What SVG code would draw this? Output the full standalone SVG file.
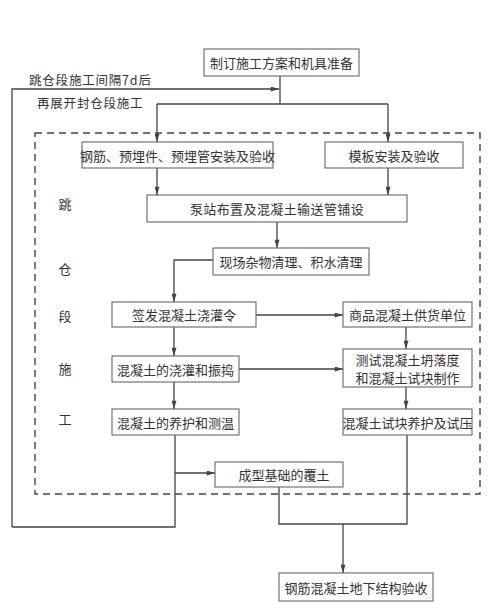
<svg xmlns="http://www.w3.org/2000/svg" width="500" height="616" viewBox="0 0 500 616">
<defs>
<style>
.box{fill:#fff;stroke:#666;stroke-width:1.1}
.t{font-family:"Noto Sans CJK SC","Liberation Serif",serif;font-size:13px;fill:#333;text-anchor:middle;dominant-baseline:central}
.ts{font-family:"Noto Sans CJK SC","Liberation Serif",serif;font-size:12.5px;fill:#333;dominant-baseline:central;letter-spacing:0.8px}
.ln{fill:none;stroke:#444;stroke-width:1.3}
.dash{fill:none;stroke:#444;stroke-width:1.4;stroke-dasharray:7,5}
</style>
<marker id="ar" viewBox="0 0 10 6" refX="10" refY="3" markerWidth="9" markerHeight="5" markerUnits="userSpaceOnUse" orient="auto">
<path d="M0,0 L10,3 L0,6 Z" fill="#444"/>
</marker>
</defs>
<rect width="500" height="616" fill="#fff"/>
<rect class="dash" x="35" y="133" width="445" height="361"/>
<g id="connectors">
<path class="ln" d="M280,76 V104"/>
<path class="ln" d="M157,104 H388"/>
<path class="ln" d="M157,104 V142" marker-end="url(#ar)"/>
<path class="ln" d="M388,104 V142" marker-end="url(#ar)"/>
<path class="ln" d="M12,527 V89 H279" marker-end="url(#ar)"/>
<path class="ln" d="M157,168 V195" marker-end="url(#ar)"/>
<path class="ln" d="M388,168 V195" marker-end="url(#ar)"/>
<path class="ln" d="M277,222 V248" marker-end="url(#ar)"/>
<path class="ln" d="M213,260 H174 V302" marker-end="url(#ar)"/>
<path class="ln" d="M256,315 H343" marker-end="url(#ar)"/>
<path class="ln" d="M406,327 V349" marker-end="url(#ar)"/>
<path class="ln" d="M174,327 V356" marker-end="url(#ar)"/>
<path class="ln" d="M239,369 H343" marker-end="url(#ar)"/>
<path class="ln" d="M174,382 V409" marker-end="url(#ar)"/>
<path class="ln" d="M406,387 V409" marker-end="url(#ar)"/>
<path class="ln" d="M175,435 V527 H12"/>
<path class="ln" d="M175,473 H215" marker-end="url(#ar)"/>
<path class="ln" d="M279,487 V524 H407 V435"/>
<path class="ln" d="M343,524 V573" marker-end="url(#ar)"/>
</g>
<text class="ts" x="29" y="79">跳仓段施工间隔7d后</text>
<text class="ts" x="37" y="102">再展开封仓段施工</text>
<g id="side-label">
<text class="t" x="65" y="203">跳</text>
<text class="t" x="65" y="268">仓</text>
<text class="t" x="65" y="315">段</text>
<text class="t" x="65" y="368">施</text>
<text class="t" x="65" y="418">工</text>
</g>
<g id="n1"><rect class="box" x="204" y="49" width="155" height="27"/><text class="t" x="281.5" y="62.5">制订施工方案和机具准备</text></g>
<g id="n2"><rect class="box" x="82" y="142" width="191" height="26"/><text class="t" x="177.5" y="155" font-size="12.5">钢筋、预埋件、预埋管安装及验收</text></g>
<g id="n3"><rect class="box" x="325" y="142" width="138" height="26"/><text class="t" x="394" y="155">模板安装及验收</text></g>
<g id="n4"><rect class="box" x="147" y="195" width="260" height="27"/><text class="t" x="277" y="208.5" letter-spacing="0.4">泵站布置及混凝土输送管铺设</text></g>
<g id="n5"><rect class="box" x="213" y="248" width="156" height="27"/><text class="t" x="291" y="261.5">现场杂物清理、积水清理</text></g>
<g id="n6"><rect class="box" x="112" y="302" width="144" height="25"/><text class="t" x="184" y="314.5">签发混凝土浇灌令</text></g>
<g id="n7"><rect class="box" x="343" y="302" width="129" height="25"/><text class="t" x="407.5" y="314.5">商品混凝土供货单位</text></g>
<g id="n8"><rect class="box" x="112" y="356" width="127" height="26"/><text class="t" x="175.5" y="369">混凝土的浇灌和振捣</text></g>
<g id="n9"><rect class="box" x="343" y="349" width="129" height="38"/><text class="t" x="407.5" y="359.5" font-size="12.5">测试混凝土坍落度</text><text class="t" x="407.5" y="377" font-size="12.5">和混凝土试块制作</text></g>
<g id="n10"><rect class="box" x="112" y="409" width="127" height="26"/><text class="t" x="175.5" y="422">混凝土的养护和测温</text></g>
<g id="n11"><rect class="box" x="343" y="409" width="129" height="26"/><text class="t" x="407.5" y="422" font-size="12">混凝土试块养护及试压</text></g>
<g id="n12"><rect class="box" x="215" y="462" width="128" height="25"/><text class="t" x="284" y="474.5">成型基础的覆土</text></g>
<g id="n13"><rect class="box" x="279" y="573" width="154" height="28"/><text class="t" x="356" y="587">钢筋混凝土地下结构验收</text></g>
</svg>
